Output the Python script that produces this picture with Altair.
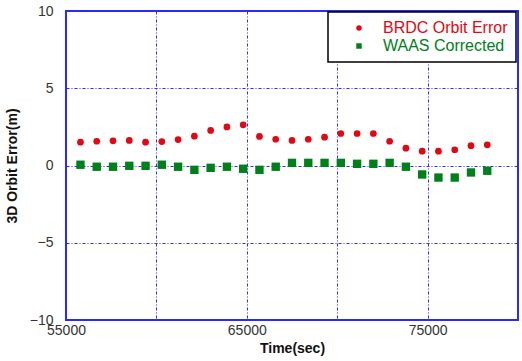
import altair as alt
import pandas as pd

times = [55800, 56700, 57600, 58500, 59400, 60300, 61200, 62100, 63000, 63900,
         64800, 65700, 66600, 67500, 68400, 69300, 70200, 71100, 72000, 72900,
         73800, 74700, 75600, 76500, 77400, 78300]
brdc = [1.51, 1.57, 1.60, 1.62, 1.51, 1.55, 1.68, 1.90, 2.27, 2.50,
        2.63, 1.88, 1.70, 1.62, 1.70, 1.83, 2.07, 2.07, 2.07, 1.57,
        1.12, 0.93, 0.93, 1.02, 1.28, 1.34]
waas = [0.05, -0.08, -0.08, -0.02, -0.02, 0.05, -0.08, -0.28, -0.15, -0.08,
        -0.21, -0.28, -0.08, 0.17, 0.17, 0.17, 0.17, 0.11, 0.11, 0.17,
        -0.08, -0.58, -0.78, -0.78, -0.45, -0.34]
series_names = ["BRDC Orbit Error", "WAAS Corrected"]
series_colors = ["#e30613", "#00801a"]
series_shapes = ["circle", "square"]
x_ticks = [55000, 60000, 65000, 70000, 75000, 80000]
x_labels_shown = [55000, 65000, 75000]
y_ticks = [-10, -5, 0, 5, 10]

rows = []
for t, b, w in zip(times, brdc, waas):
    rows.append({"t": t, "v": b, "s": series_names[0]})
    rows.append({"t": t, "v": w, "s": series_names[1]})
df = pd.DataFrame(rows)

FONT = "Liberation Sans"
BLUE = "#2a2aff"

label_expr = " || ".join(f"datum.value == {v}" for v in x_labels_shown)

chart = alt.Chart(df).mark_point(filled=True, opacity=1).encode(
    x=alt.X("t:Q", scale=alt.Scale(domain=[55000, 80000], nice=False, zero=False),
            axis=alt.Axis(values=x_ticks, title="Time(sec)", format="d",
                          labelExpr=f"({label_expr}) ? datum.label : ''",
                          ticks=False, domain=False, labelPadding=3,
                          labelOverlap=False, labelFlush=False, labelBound=False,
                          titlePadding=4)),
    y=alt.Y("v:Q", scale=alt.Scale(domain=[-10, 10], nice=False),
            axis=alt.Axis(values=y_ticks, title="3D Orbit Error(m)",
                          ticks=False, domain=False, labelPadding=13,
                          labelOverlap=False, labelFlush=False, labelBound=False,
                          titlePadding=10)),
    color=alt.Color("s:N", scale=alt.Scale(domain=series_names, range=series_colors),
                    legend=alt.Legend(title=None, orient="none", legendX=262, legendY=1,
                                      fillColor="white", strokeColor="black",
                                      padding=8, rowPadding=2,
                                      symbolOffset=15, labelOffset=16,
                                      labelFontSize=16, labelFont=FONT,
                                      symbolSize=30,
                                      labelColor=alt.ExprRef(
                                          f"datum.label == '{series_names[0]}' ? '{series_colors[0]}' : '{series_colors[1]}'"),
                                      labelLimit=300)),
    shape=alt.Shape("s:N", scale=alt.Scale(domain=series_names, range=series_shapes),
                    legend=None),
    size=alt.condition(f"datum.s == '{series_names[0]}'", alt.value(45), alt.value(70)),
).properties(
    width=452, height=309,
    autosize=alt.AutoSizeParams(type="none"),
    padding={"left": 66, "top": 11, "right": 4, "bottom": 41},
).configure_view(
    stroke=BLUE, strokeWidth=2
).configure_axis(
    grid=True, gridColor=BLUE, gridDash=[3, 2, 1, 2], gridWidth=1, gridOpacity=1,
    labelFont=FONT, labelFontSize=14, labelColor="#333333",
    titleFont=FONT, titleFontSize=14, titleFontWeight="bold", titleColor="#111111",
).configure_legend(
    strokeWidth=1.5
)

chart.save("out.html", embed_options={"renderer": "svg", "actions": False})
